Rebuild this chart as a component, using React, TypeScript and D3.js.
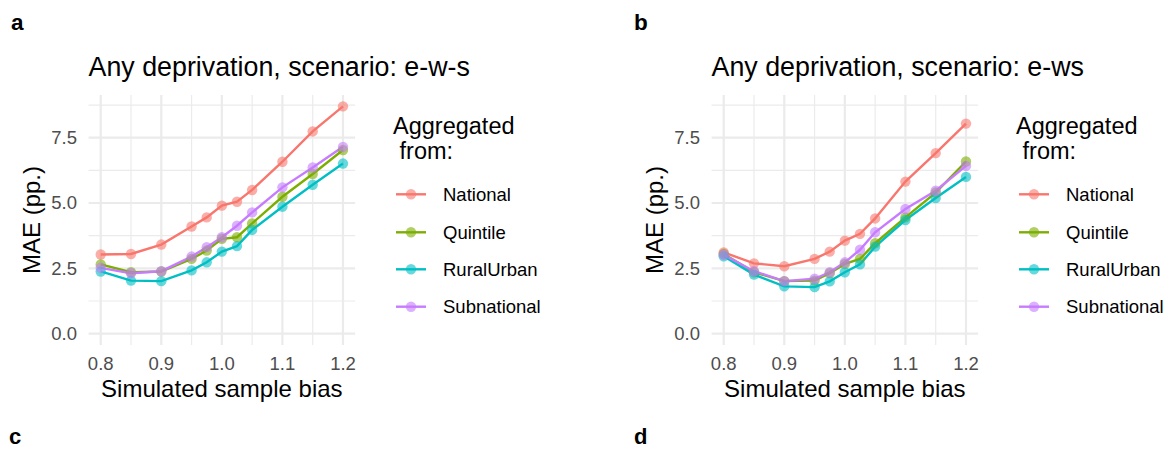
import React from "react";
import * as d3 from "d3";

const biasLevels = [0.8, 0.85, 0.9, 0.95, 0.975, 1.0, 1.025, 1.05, 1.1, 1.15, 1.2];
const seriesNames = ["National", "Quintile", "RuralUrban", "Subnational"];
const seriesColors = ["#F8766D", "#7CAE00", "#00BFC4", "#C77CFF"];

// Panel a: scenario e-w-s
const ewsNational = [3.03, 3.05, 3.41, 4.1, 4.45, 4.9, 5.05, 5.5, 6.58, 7.74, 8.7];
const ewsQuintile = [2.65, 2.35, 2.38, 2.86, 3.18, 3.63, 3.69, 4.22, 5.24, 6.11, 7.03];
const ewsRuralUrban = [2.38, 2.03, 2.01, 2.42, 2.73, 3.14, 3.35, 3.97, 4.86, 5.7, 6.51];
const ewsSubnational = [2.52, 2.31, 2.39, 2.95, 3.31, 3.69, 4.13, 4.64, 5.6, 6.36, 7.15];

// Panel b: scenario e-ws
const ewsbNational = [3.11, 2.69, 2.58, 2.86, 3.14, 3.56, 3.82, 4.41, 5.82, 6.91, 8.04];
const ewsbQuintile = [3.05, 2.35, 2.01, 2.03, 2.31, 2.67, 2.86, 3.46, 4.45, 5.4, 6.59];
const ewsbRuralUrban = [2.96, 2.26, 1.81, 1.78, 2.0, 2.35, 2.65, 3.33, 4.35, 5.19, 6.0];
const ewsbSubnational = [3.02, 2.39, 2.01, 2.1, 2.35, 2.73, 3.21, 3.88, 4.77, 5.47, 6.42];

const xMajorTicks = [0.8, 0.9, 1.0, 1.1, 1.2];
const xMinorTicks = [0.85, 0.95, 1.05, 1.15];
const yMajorTicks = [0, 2.5, 5.0, 7.5];
const yMinorTicks = [1.25, 3.75, 6.25, 8.75];

const panels = [
  { tag: "a", title: "Any deprivation, scenario: e-w-s", series: [ewsNational, ewsQuintile, ewsRuralUrban, ewsSubnational] },
  { tag: "b", title: "Any deprivation, scenario: e-ws", series: [ewsbNational, ewsbQuintile, ewsbRuralUrban, ewsbSubnational] },
];

const FONT = "'Liberation Sans', Arial, Helvetica, sans-serif";

function Panel({ offsetX, title, tag, series }: { offsetX: number; title: string; tag: string; series: number[][] }) {
  const left = 88.6;
  const right = 355.1;
  const top = 95;
  const bottom = 345;
  const xs = d3.scaleLinear().domain([0.78, 1.22]).range([left, right]);
  const yMax = 8.7;
  const ys = d3.scaleLinear().domain([-yMax * 0.05, yMax * 1.05]).range([bottom, top]);
  const line = d3
    .line<[number, number]>()
    .x((d) => xs(d[0]))
    .y((d) => ys(d[1]));
  const legendRows = [194.3, 232.3, 269.3, 306.7];
  return (
    <g transform={`translate(${offsetX},0)`}>
      <text x={11} y={29.5} fontFamily={FONT} fontWeight="bold" fontSize={22.5} fill="#000">
        {tag}
      </text>
      <text x={left} y={75.5} fontFamily={FONT} fontSize={26.8} fill="#000">
        {title}
      </text>
      {/* grid */}
      {yMinorTicks.map((t) => (
        <line key={"ym" + t} x1={left} x2={right} y1={ys(t)} y2={ys(t)} stroke="#EBEBEB" strokeWidth={1.2} />
      ))}
      {xMinorTicks.map((t) => (
        <line key={"xm" + t} x1={xs(t)} x2={xs(t)} y1={top} y2={bottom} stroke="#EBEBEB" strokeWidth={1.2} />
      ))}
      {yMajorTicks.map((t) => (
        <line key={"yM" + t} x1={left} x2={right} y1={ys(t)} y2={ys(t)} stroke="#EBEBEB" strokeWidth={2.2} />
      ))}
      {xMajorTicks.map((t) => (
        <line key={"xM" + t} x1={xs(t)} x2={xs(t)} y1={top} y2={bottom} stroke="#EBEBEB" strokeWidth={2.2} />
      ))}
      {/* lines */}
      {series.map((vals, i) => (
        <path
          key={"l" + i}
          d={line(biasLevels.map((b, j) => [b, vals[j]] as [number, number])) || ""}
          fill="none"
          stroke={seriesColors[i]}
          strokeWidth={2.4}
        />
      ))}
      {/* points */}
      {series.map((vals, i) => (
        <g key={"p" + i}>
          {biasLevels.map((b, j) => (
            <circle key={j} cx={xs(b)} cy={ys(vals[j])} r={5.2} fill={seriesColors[i]} fillOpacity={0.6} />
          ))}
        </g>
      ))}
      {/* y tick labels */}
      {yMajorTicks.map((t) => (
        <text
          key={"yl" + t}
          x={77}
          y={ys(t)}
          dy="0.35em"
          textAnchor="end"
          fontFamily={FONT}
          fontSize={18.5}
          fill="#4D4D4D"
        >
          {d3.format(".1f")(t)}
        </text>
      ))}
      {/* x tick labels */}
      {xMajorTicks.map((t) => (
        <text key={"xl" + t} x={xs(t)} y={370} textAnchor="middle" fontFamily={FONT} fontSize={18.5} fill="#4D4D4D">
          {d3.format(".1f")(t)}
        </text>
      ))}
      {/* axis titles */}
      <text x={(left + right) / 2} y={397} textAnchor="middle" fontFamily={FONT} fontSize={24} fill="#000">
        Simulated sample bias
      </text>
      <text
        transform={`translate(40,${(top + bottom) / 2}) rotate(-90)`}
        textAnchor="middle"
        fontFamily={FONT}
        fontSize={24}
        fill="#000"
      >
        MAE (pp.)
      </text>
      {/* legend */}
      <text x={393} y={134} fontFamily={FONT} fontSize={23.5} fill="#000">
        Aggregated
      </text>
      <text x={393} y={159} fontFamily={FONT} fontSize={23.5} fill="#000" style={{ whiteSpace: "pre" }}>
        {" from:"}
      </text>
      {seriesNames.map((name, i) => (
        <g key={"lg" + i}>
          <line x1={396} x2={426} y1={legendRows[i]} y2={legendRows[i]} stroke={seriesColors[i]} strokeWidth={2.4} />
          <circle cx={411} cy={legendRows[i]} r={5.2} fill={seriesColors[i]} fillOpacity={0.6} />
          <text x={443} y={legendRows[i]} dy="0.35em" fontFamily={FONT} fontSize={18.5} fill="#000">
            {name}
          </text>
        </g>
      ))}
    </g>
  );
}

export default function App() {
  return (
    <svg
      width={1170}
      height={449}
      style={{ position: "absolute", left: 0, top: 0, background: "#fff" }}
      xmlns="http://www.w3.org/2000/svg"
    >
      <rect width={1170} height={449} fill="#fff" />
      {panels.map((p, i) => (
        <Panel key={p.tag} offsetX={i * 623} title={p.title} tag={p.tag} series={p.series} />
      ))}
      <text x={9} y={443.5} fontFamily={FONT} fontWeight="bold" fontSize={22} fill="#000">
        c
      </text>
      <text x={634} y={443.5} fontFamily={FONT} fontWeight="bold" fontSize={22} fill="#000">
        d
      </text>
    </svg>
  );
}
